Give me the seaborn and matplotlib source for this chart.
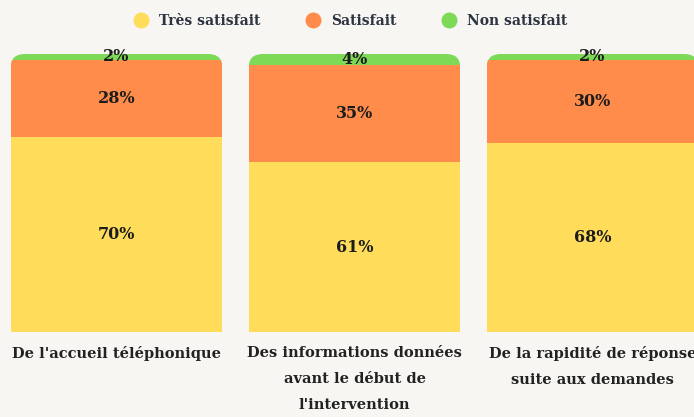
import numpy as np
import pandas as pd
import seaborn as sns
import matplotlib
matplotlib.use("Agg")
import matplotlib.pyplot as plt
from matplotlib.patches import FancyBboxPatch
from matplotlib.lines import Line2D

categories = ["De l'accueil téléphonique",
              "Des informations données\navant le début de\nl'intervention",
              "De la rapidité de réponse\nsuite aux demandes"]
tres_satisfait = [70, 61, 68]
satisfait = [28, 35, 30]
non_satisfait = [2, 4, 2]
series_names = ["Très satisfait", "Satisfait", "Non satisfait"]
colors = ["#FFDC5A", "#FF8C4A", "#7ED957"]

BG = "#F7F6F2"
sns.set_theme(style="white")
plt.rcParams["font.family"] = ["DejaVu Serif"]

fig = plt.figure(figsize=(6.94, 4.17), dpi=100, facecolor=BG)
ax = fig.add_axes([0, 85 / 417, 1, 278 / 417])
ax.set_facecolor(BG)

df = pd.DataFrame({"cat": categories,
                   "y": tres_satisfait, "o": satisfait, "g": non_satisfait})
df["c1"] = df["y"]
df["c2"] = df["y"] + df["o"]
df["c3"] = df["c2"] + df["g"]

W = 0.89
sns.barplot(data=df, x="cat", y="c3", color=colors[2], width=W, ax=ax,
            saturation=1, linewidth=0)
sns.barplot(data=df, x="cat", y="c2", color=colors[1], width=W, ax=ax,
            saturation=1, linewidth=0)
sns.barplot(data=df, x="cat", y="c1", color=colors[0], width=W, ax=ax,
            saturation=1, linewidth=0)

ax.set_xlim(-116.5 / 238, (694 - 116.5) / 238)
ax.set_ylim(0, 100)

# rounded top corners via clip paths
xr = 14 / 238.0
aspect = (238.0 / (278 / 100.0))
for p in ax.patches:
    x0 = p.get_x()
    w = p.get_width()
    clip = FancyBboxPatch((x0, -20), w, 120, boxstyle=f"round,pad=0,rounding_size={xr}",
                          mutation_aspect=aspect, transform=ax.transData,
                          facecolor="none", edgecolor="none")
    p.set_clip_path(clip)

# value labels
for i in range(len(categories)):
    segs = [(0, tres_satisfait[i]),
            (tres_satisfait[i], satisfait[i]),
            (tres_satisfait[i] + satisfait[i], non_satisfait[i])]
    for base, v in segs:
        ax.text(i, base + v / 2, f"{v}%", ha="center", va="center",
                fontsize=11.5, fontweight="bold", color="#1c1c1c")

ax.set_xlabel("")
ax.set_ylabel("")
ax.set_yticks([])
ax.set_xticks(range(len(categories)))
ax.set_xticklabels(categories, fontsize=10.5, fontweight="bold", color="#222222",
                   linespacing=2.1)
ax.tick_params(axis="x", length=0, pad=10)
for s in ax.spines.values():
    s.set_visible(False)

handles = [Line2D([0], [0], marker="o", linestyle="none", markersize=11.5,
                  markerfacecolor=c, markeredgecolor="none") for c in colors]
fig.legend(handles, series_names, loc="center", bbox_to_anchor=(0.5, 1 - 21 / 417),
           ncol=3, frameon=False, handletextpad=0.3, columnspacing=2.8,
           prop={"family": "DejaVu Serif", "weight": "bold", "size": 10},
           labelcolor="#2B3440")

fig.savefig("out.png", dpi=100, facecolor=BG)
